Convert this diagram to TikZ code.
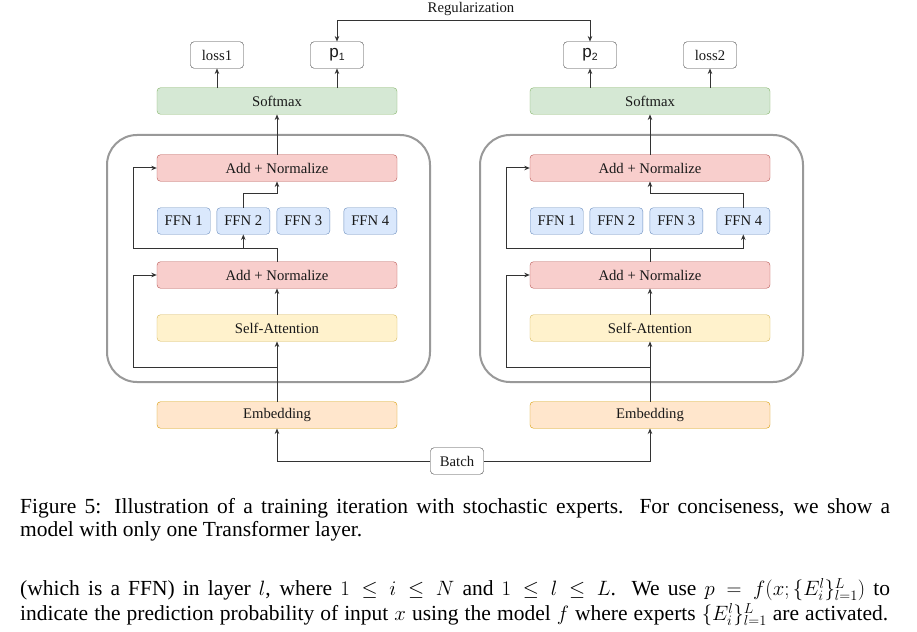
\documentclass[tikz,border=0pt]{standalone}
\usepackage{fontspec}
\setmainfont{Liberation Serif}
\setsansfont{Liberation Sans}
\usetikzlibrary{arrows.meta}
\definecolor{sfill}{HTML}{D5E8D4}\definecolor{sdraw}{HTML}{82B366}
\definecolor{afill}{HTML}{F8CECC}\definecolor{adraw}{HTML}{B85450}
\definecolor{ffill}{HTML}{DAE8FC}\definecolor{fdraw}{HTML}{6C8EBF}
\definecolor{yfill}{HTML}{FFF2CC}\definecolor{ydraw}{HTML}{D6B656}
\definecolor{efill}{HTML}{FFE6CC}\definecolor{edraw}{HTML}{D79B00}
\definecolor{linec}{HTML}{333333}
\definecolor{layerc}{HTML}{999999}
\newcommand\diafont{\fontsize{14.7}{17}\selectfont}
\newcommand\capfont{\fontsize{21.5}{24}\selectfont}
\newcommand\plabel[1]{{\sffamily\fontsize{17}{17}\selectfont p\raisebox{-3pt}{\fontsize{10.5}{10.5}\selectfont #1}}}
\begin{document}
\begin{tikzpicture}[x=1pt,y=-1pt,
  box/.style={draw, rounded corners=3.5pt, inner sep=0pt, minimum height=26.5pt, font=\diafont, text=black!90},
  wide/.style={box, minimum width=240pt},
  small/.style={box, minimum width=53pt},
  softbox/.style={wide, fill=sfill, draw=sdraw},
  addbox/.style={wide, fill=afill, draw=adraw},
  attbox/.style={wide, fill=yfill, draw=ydraw},
  embbox/.style={wide, fill=efill, draw=edraw},
  ffnbox/.style={small, fill=ffill, draw=fdraw},
  outbox/.style={small, fill=white, draw=black!75},
  layerbox/.style={draw=layerc, line width=2pt, rounded corners=30pt},
  conn/.style={draw=linec, line width=1pt},
  arr/.style={conn, -{Stealth[length=5.5pt,width=4.5pt]}},
  dblarr/.style={conn, {Stealth[length=5.5pt,width=4.5pt]}-{Stealth[length=5.5pt,width=4.5pt]}},
  captext/.style={anchor=base west, inner sep=0pt, font=\capfont},
]
\useasboundingbox (0,0) rectangle (917,631);
\fill[white] (0,0) rectangle (917,631);

\foreach \s/\c in {L/277,R/650}{
  \draw[layerbox] (\c-170,135) rectangle (\c+153,382);
  \node[softbox] (soft\s) at (\c,101) {Softmax};
  \node[addbox] (addU\s) at (\c,168) {Add + Normalize};
  \node[ffnbox] (f1\s) at (\c-93.3,221) {FFN 1};
  \node[ffnbox] (f2\s) at (\c-33.7,221) {FFN 2};
  \node[ffnbox] (f3\s) at (\c+26.3,221) {FFN 3};
  \node[ffnbox] (f4\s) at (\c+93.3,221) {FFN 4};
  \node[addbox] (addD\s) at (\c,275) {Add + Normalize};
  \node[attbox] (att\s) at (\c,328) {Self-Attention};
  \node[embbox] (emb\s) at (\c,415) {Embedding};
  \coordinate (splitU\s) at (\c,248);
  \coordinate (splitD\s) at (\c,367.5);
  \coordinate (resU\s) at (\c-144,248);
  \coordinate (resD\s) at (\c-144,367.5);
  \draw[arr] (emb\s.north) -- (att\s.south);
  \draw[arr] (att\s.north) -- (addD\s.south);
  \draw[arr] (splitD\s) -- (resD\s) |- (addD\s.west);
  \draw[arr] (addD\s.north) -- (splitU\s) -- (resU\s) |- (addU\s.west);
  \draw[arr] (addU\s.north) -- (soft\s.south);
}

% expert routing
\draw[arr] (f2L.south |- splitUL) -- (f2L.south);
\draw[arr] (f2L.north) -- ++(0,-14) -| (addUL.south);
\draw[arr] (splitUR) -| (f4R.south);
\draw[arr] (f4R.north) -- ++(0,-14) -| (addUR.south);

% outputs
\node[outbox] (loss1) at (217,55) {loss1};
\node[outbox] (p1) at (337,55) {\plabel{1}};
\node[outbox] (p2) at (590,55) {\plabel{2}};
\node[outbox] (loss2) at (710,55) {loss2};
\draw[arr] (softL.north -| loss1.south) -- (loss1.south);
\draw[arr] (softL.north -| p1.south) -- (p1.south);
\draw[arr] (softR.north -| p2.south) -- (p2.south);
\draw[arr] (softR.north -| loss2.south) -- (loss2.south);

% regularization
\coordinate (reg) at (0,21);
\draw[dblarr] (p1.north) -- (p1.north |- reg) -- (p2.north |- reg) -- (p2.north);
\node[font=\diafont, text=black!90, inner sep=0pt] (regl) at (471,8.5) {Regularization};

% batch
\node[outbox] (batch) at (457,461) {Batch};
\draw[arr] (batch.west) -| (embL.south);
\draw[arr] (batch.east) -| (embR.south);

% caption and text
\node[captext] (cap1) at (20,513.3) {\makebox[870pt][s]{Figure 5: Illustration of a training iteration with stochastic experts. For conciseness, we show a}};
\node[captext] (cap2) at (20,536) {model with only one Transformer layer.};
\node[captext] (par1) at (20,595.7) {\makebox[870pt][s]{(which is a FFN) in layer $l$, where $1 \le i \le N$ and $1 \le l \le L$. We use $p = f(x; \{E_i^l\}_{l=1}^L)$ to}};
\node[captext] (par2) at (20,620.7) {\makebox[868pt][s]{indicate the prediction probability of input $x$ using the model $f$ where experts $\{E_i^l\}_{l=1}^L$ are activated.}};
\end{tikzpicture}
\end{document}
